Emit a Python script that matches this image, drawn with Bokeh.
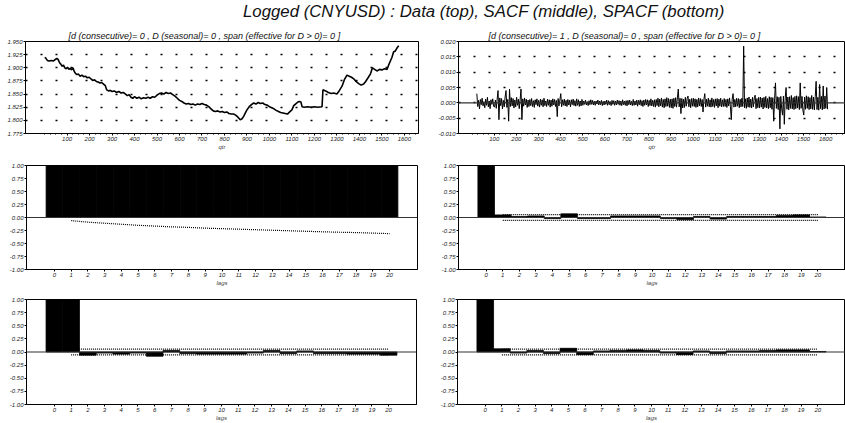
from bokeh.plotting import figure
from bokeh.models import Range1d, FixedTicker, Span, Div, NumeralTickFormatter
from bokeh.layouts import column, row
from bokeh.embed import file_html
from bokeh.resources import INLINE

MAIN_TITLE = "Logged (CNYUSD) : Data (top), SACF (middle), SPACF (bottom)"
SUB_LEFT = "[d (consecutive)= 0 , D (seasonal)= 0 , span (effective for D > 0)= 0 ]"
SUB_RIGHT = "[d (consecutive)= 1 , D (seasonal)= 0 , span (effective for D > 0)= 0 ]"

# level series (qtr, value)
LEVEL_T = [1, 6, 12, 20, 30, 40, 48, 54, 60, 66, 72, 78, 84, 90, 96, 102, 108, 114, 120,
           126, 132, 138, 144, 150, 158, 166, 174, 182, 190, 198, 206, 214, 222, 230, 238,
           246, 254, 262, 270, 276, 284, 292, 300, 310, 320, 330, 340, 350, 360, 368, 376,
           384, 392, 400, 410, 420, 430, 440, 450, 460, 470, 480, 490, 500, 510, 520, 530,
           540, 550, 560, 570, 580, 590, 600, 610, 620, 630, 640, 650, 660, 670, 680, 690,
           700, 710, 720, 730, 740, 750, 760, 770, 780, 790, 800, 810, 820, 830, 840, 850,
           860, 870, 878, 886, 894, 900, 910, 920, 930, 940, 950, 960, 970, 980, 990, 1000,
           1010, 1020, 1030, 1040, 1050, 1060, 1070, 1080, 1090, 1100, 1108, 1116, 1124,
           1132, 1140, 1145, 1155, 1170, 1185, 1200, 1215, 1234, 1238, 1250, 1262, 1274,
           1286, 1300, 1310, 1323, 1334, 1345, 1355, 1365, 1375, 1385, 1397, 1408, 1419,
           1428, 1440, 1450, 1458, 1468, 1478, 1490, 1500, 1512, 1523, 1530, 1537, 1545,
           1552, 1560, 1568, 1575]
LEVEL_V = [1.920, 1.918, 1.914, 1.913, 1.914, 1.913, 1.916, 1.918, 1.916, 1.910, 1.907,
           1.903, 1.905, 1.900, 1.898, 1.901, 1.897, 1.899, 1.896, 1.900, 1.893, 1.889,
           1.887, 1.888, 1.884, 1.886, 1.883, 1.884, 1.881, 1.882, 1.879, 1.876, 1.877,
           1.874, 1.873, 1.871, 1.872, 1.869, 1.866, 1.858, 1.856, 1.857, 1.855, 1.856,
           1.853, 1.855, 1.852, 1.853, 1.850, 1.847, 1.849, 1.844, 1.842, 1.845, 1.842,
           1.844, 1.841, 1.843, 1.842, 1.844, 1.842, 1.845, 1.844, 1.848, 1.851, 1.852,
           1.850, 1.853, 1.851, 1.852, 1.849, 1.846, 1.842, 1.838, 1.836, 1.833, 1.831,
           1.832, 1.830, 1.831, 1.829, 1.831, 1.830, 1.832, 1.830, 1.829, 1.826, 1.822,
           1.818, 1.817, 1.818, 1.816, 1.817, 1.815, 1.816, 1.813, 1.812, 1.812, 1.810,
           1.806, 1.801, 1.803, 1.808, 1.815, 1.820, 1.826, 1.830, 1.833, 1.831, 1.834,
           1.832, 1.833, 1.830, 1.829, 1.826, 1.824, 1.822, 1.819, 1.817, 1.815, 1.814,
           1.813, 1.812, 1.816, 1.820, 1.828, 1.831, 1.834, 1.836, 1.835, 1.826, 1.825,
           1.826, 1.825, 1.826, 1.825, 1.826, 1.858, 1.856, 1.853, 1.851, 1.852, 1.850,
           1.856, 1.865, 1.878, 1.886, 1.884, 1.882, 1.879, 1.874, 1.870, 1.867, 1.869,
           1.874, 1.882, 1.889, 1.900, 1.897, 1.894, 1.897, 1.896, 1.898, 1.897, 1.905,
           1.912, 1.920, 1.930, 1.932, 1.938, 1.942]

# differenced series, one value every 4 qtr starting at qtr 21
DIFF_START = 21
DIFF_STEP = 4
DIFF_V = [
    0.0030, -0.0012, 0.0008, -0.0020, 0.0011, -0.0006, 0.0015, -0.0010, 0.0004, -0.0016,
    0.0012, -0.0008, 0.0018, -0.0013, 0.0006, -0.0019, 0.0010, -0.0005, 0.0013, -0.0011,
    -0.0014, 0.0009, -0.0018, 0.0012, 0.0040, -0.0055, 0.0016, -0.0009, 0.0014, -0.0020,
    0.0008, -0.0013, 0.0019, 0.0040, -0.0015, 0.0011, -0.0060, 0.0045, -0.0012, 0.0017,
    -0.0010, 0.0014, -0.0017, 0.0009, -0.0013, 0.0018, -0.0008, 0.0012, -0.0019, 0.0010,
    0.0045, -0.0055, 0.0013, -0.0011, 0.0016, -0.0007, 0.0012, -0.0015, 0.0009, -0.0012,
    0.0011, -0.0009, 0.0014, -0.0012, 0.0007, -0.0015, 0.0010, -0.0006, 0.0013, -0.0011,
    0.0008, -0.0014, 0.0012, -0.0008, 0.0010, -0.0013, 0.0015, -0.0009, 0.0006, -0.0012,
    0.0012, -0.0008, 0.0010, -0.0014, 0.0009, -0.0011, 0.0013, -0.0007, 0.0011, -0.0012,
    0.0008, -0.0045, 0.0014, -0.0010, 0.0009, 0.0030, -0.0013, 0.0010, -0.0008, 0.0012,
    -0.0010, 0.0008, -0.0012, 0.0011, -0.0007, 0.0009, -0.0013, 0.0010, -0.0006, 0.0012,
    -0.0009, 0.0007, -0.0011, 0.0013, -0.0008, 0.0010, -0.0012, 0.0006, -0.0010, 0.0011,
    -0.0008, 0.0006, -0.0005, 0.0009, -0.0007, 0.0004, -0.0009, 0.0007, -0.0006, 0.0010,
    -0.0005, 0.0008, -0.0007, 0.0005, -0.0008, 0.0006, -0.0004, 0.0009, -0.0007, 0.0006,
    -0.0006, 0.0008, -0.0009, 0.0005, -0.0007, 0.0006, -0.0005, 0.0009, -0.0008, 0.0007,
    -0.0006, 0.0004, -0.0009, 0.0008, -0.0005, 0.0007, -0.0008, 0.0006, -0.0007, 0.0009,
    -0.0005, 0.0007, -0.0008, 0.0006, -0.0009, 0.0010, -0.0006, 0.0005, -0.0008, 0.0007,
    -0.0010, 0.0008, -0.0006, 0.0009, -0.0007, 0.0005, -0.0009, 0.0011, -0.0008, 0.0006,
    -0.0007, 0.0009, -0.0011, 0.0008, -0.0006, 0.0010, -0.0009, 0.0007, -0.0012, 0.0009,
    -0.0008, 0.0011, -0.0007, 0.0010, -0.0012, 0.0008, -0.0009, 0.0013, -0.0010, 0.0008,
    -0.0012, 0.0010, -0.0014, 0.0011, -0.0009, 0.0015, -0.0013, 0.0012, -0.0010, 0.0016,
    -0.0014, 0.0011, -0.0016, 0.0013, -0.0012, 0.0017, -0.0011, 0.0014, -0.0015, 0.0012,
    -0.0016, 0.0013, -0.0018, 0.0015, -0.0012, 0.0017, -0.0014, 0.0016, 0.0045, -0.0013,
    0.0015, -0.0035, 0.0014, -0.0017, 0.0012, -0.0015, 0.0018, -0.0011, 0.0014, 0.0022,
    -0.0013, 0.0012, -0.0016, 0.0014, -0.0011, 0.0015, -0.0012, 0.0013, -0.0015, 0.0011,
    -0.0013, 0.0016, -0.0010, 0.0014, -0.0012, 0.0011, -0.0030, 0.0012, 0.0030, -0.0014,
    0.0012, -0.0011, 0.0015, -0.0013, 0.0010, -0.0014, 0.0016, -0.0012, 0.0011, -0.0015,
    0.0013, -0.0010, 0.0014, -0.0016, 0.0012, -0.0011, 0.0015, -0.0013, 0.0010, -0.0012,
    0.0014, -0.0012, 0.0011, -0.0015, 0.0013, -0.0010, 0.0016, -0.0013, -0.0055, 0.0012,
    0.0030, -0.0014, 0.0011, -0.0013, 0.0015, -0.0011, 0.0014, -0.0016, 0.0012, -0.0013,
    0.0015, -0.0012, 0.0185, -0.0016, 0.0013, -0.0018, 0.0016, -0.0014, 0.0019, -0.0015,
    0.0012, -0.0017, 0.0018, -0.0013, 0.0016, 0.0025, -0.0019, 0.0014, -0.0016, 0.0018,
    -0.0017, 0.0019, -0.0014, 0.0016, -0.0020, 0.0018, -0.0015, 0.0021, -0.0017, 0.0014,
    -0.0019, 0.0020, -0.0016, 0.0018, -0.0021, 0.0017, -0.0060, 0.0015, 0.0065, -0.0018,
    0.0020, -0.0022, 0.0018, -0.0085, 0.0021, -0.0019, -0.0040, 0.0022, -0.0070, 0.0016,
    0.0050, -0.0021, 0.0019, -0.0023, 0.0020, -0.0018, 0.0024, -0.0020, 0.0017, -0.0022,
    0.0021, -0.0019, 0.0023, -0.0017, 0.0020, -0.0022, 0.0065, -0.0018, 0.0021, -0.0024,
    -0.0040, 0.0019, -0.0021, 0.0023, -0.0018, 0.0020, -0.0022, 0.0017, -0.0020, 0.0024,
    -0.0021, 0.0019, -0.0023, 0.0020, 0.0070, -0.0022, 0.0018, -0.0024, 0.0060, -0.0019,
    0.0021, -0.0023, 0.0055, -0.0020, 0.0022, -0.0018, 0.0050, -0.0021,
]
DIFF_T = [DIFF_START + DIFF_STEP * i for i in range(len(DIFF_V))]

LAGS = list(range(0, 21))
SACF_LEVEL = [1.00, 1.00, 1.00, 1.00, 1.00, 1.00, 1.00, 1.00, 1.00, 1.00, 1.00,
              1.00, 1.00, 1.00, 1.00, 1.00, 1.00, 1.00, 1.00, 1.00, 1.00]
SACF_LEVEL_BAND = [-0.06, -0.09, -0.11, -0.13, -0.15, -0.165, -0.18, -0.19, -0.205, -0.215,
                   -0.225, -0.235, -0.245, -0.255, -0.265, -0.275, -0.283, -0.29, -0.30, -0.31]
SACF_DIFF = [1.00, 0.05, 0.02, 0.03, -0.02, 0.07, -0.02, -0.02, 0.03, 0.03, 0.03,
             -0.02, -0.04, 0.02, -0.03, 0.02, 0.02, 0.02, 0.04, 0.05, 0.01]
SPACF_LEVEL = [1.00, 1.00, -0.06, -0.02, -0.04, -0.02, -0.08, 0.03, -0.03, -0.04, -0.04,
               -0.04, -0.02, 0.03, -0.03, 0.02, -0.03, -0.03, -0.04, -0.04, -0.06]
SPACF_DIFF = [1.00, 0.06, -0.02, 0.03, -0.03, 0.07, -0.05, 0.02, 0.03, 0.04, 0.03,
              -0.02, -0.05, 0.02, -0.03, 0.02, 0.02, 0.03, 0.04, 0.04, 0.01]
BAND = 0.055

LEVEL_YTICKS = [1.775, 1.800, 1.825, 1.850, 1.875, 1.900, 1.925, 1.950]
DIFF_YTICKS = [-0.010, -0.005, 0.000, 0.005, 0.010, 0.015, 0.020]
ACF_YTICKS = [-1.00, -0.75, -0.50, -0.25, 0.00, 0.25, 0.50, 0.75, 1.00]
QTR_TICKS = list(range(100, 1700, 100))

FONT = "Liberation Sans"


def base(w, h, xr, yr, bl, br, bt, bb, title=None, title_offset=0):
    p = figure(width=w, height=h, x_range=Range1d(*xr), y_range=Range1d(*yr),
               output_backend="svg", toolbar_location=None,
               min_border_left=bl, min_border_right=br,
               min_border_top=bt, min_border_bottom=bb)
    p.outline_line_color = "black"
    p.outline_line_width = 1
    p.background_fill_color = "white"
    p.border_fill_color = "white"
    p.xgrid.visible = False
    p.ygrid.visible = False
    for ax in (p.xaxis[0], p.yaxis[0]):
        ax.axis_line_color = "black"
        ax.major_tick_line_color = "black"
        ax.minor_tick_line_color = "black"
        ax.major_tick_out = 2
        ax.major_tick_in = 0
        ax.minor_tick_out = 1
        ax.minor_tick_in = 0
        ax.major_label_text_font = FONT
        ax.major_label_text_font_style = "italic"
        ax.major_label_text_font_size = "6px"
        ax.major_label_text_color = "#222222"
        ax.major_label_standoff = 1
        ax.axis_label_text_font = FONT
        ax.axis_label_text_font_style = "italic"
        ax.axis_label_text_font_size = "6px"
        ax.axis_label_standoff = 0
    if title:
        p.title.text = title
        p.title.align = "left"
        p.title.text_font = FONT
        p.title.text_font_style = "italic"
        p.title.text_font_size = "9px"
        p.title.text_color = "#111111"
        p.title.standoff = 1
        p.title.offset = title_offset
    return p


def series_fig(x, y, ticks, fmt, xr, yr, bl, br, title, lw, toff, zero_line=False):
    p = base(425 if bl > 30 else 420, 130, xr, yr, bl, br, 19, 15, title, toff)
    p.xaxis[0].ticker = FixedTicker(ticks=QTR_TICKS,
                                    minor_ticks=list(range(0, 1700, 25)))
    p.xaxis[0].axis_label = "qtr"
    p.yaxis[0].ticker = FixedTicker(ticks=ticks)
    p.yaxis[0].formatter = NumeralTickFormatter(format=fmt)
    p.ygrid.visible = True
    p.ygrid.grid_line_color = "black"
    p.ygrid.grid_line_width = 1.5
    p.ygrid.grid_line_dash = "2 13"
    if zero_line:
        p.add_layout(Span(location=0, dimension="width", line_color="#333333",
                          line_width=1.2))
    p.line(x, y, line_color="black", line_width=lw)
    return p


def acf_fig(vals, upper, lower, w, h, bl, br, bt, bb):
    p = base(w, h, (-1.67, 21.67), (-1.0, 1.0), bl, br, bt, bb)
    p.xaxis[0].ticker = FixedTicker(ticks=LAGS)
    p.xaxis[0].axis_label = "lags"
    p.yaxis[0].ticker = FixedTicker(ticks=ACF_YTICKS)
    p.yaxis[0].formatter = NumeralTickFormatter(format="0.00")
    p.add_layout(Span(location=0, dimension="width", line_color="#333333",
                      line_width=1.2))
    p.vbar(x=LAGS, top=vals, bottom=0, width=1.0, fill_color="black",
           line_color="black", line_width=0.8)
    band_x = LAGS[1:]
    p.line(band_x, upper, line_color="black", line_dash="1 1", line_width=1.2)
    p.line(band_x, lower, line_color="black", line_dash="1 1", line_width=1.2)
    return p


p1 = series_fig(LEVEL_T, LEVEL_V, LEVEL_YTICKS, "0.000", (-85, 1663), (1.775, 1.950),
                25, 2, SUB_LEFT, 1.6, 43)
p2 = series_fig(DIFF_T, DIFF_V, DIFF_YTICKS, "0.000", (-62, 1690), (-0.010, 0.020),
                38, 0, SUB_RIGHT, 1.0, 30, zero_line=True)

band_pos = [BAND] * 20
band_neg = [-BAND] * 20
p3 = acf_fig(SACF_LEVEL, [-b for b in SACF_LEVEL_BAND], SACF_LEVEL_BAND, 420, 136, 26, 3, 13, 19)
p4 = acf_fig(SACF_DIFF, band_pos, band_neg, 425, 136, 38, 0, 13, 19)
p5 = acf_fig(SPACF_LEVEL, band_pos, band_neg, 420, 135, 26, 4, 11, 19)
p6 = acf_fig(SPACF_DIFF, band_pos, band_neg, 425, 135, 37, 0, 11, 19)

title = Div(text=MAIN_TITLE, width=845, height=22, margin=(0, 0, 0, 0),
            styles={"text-align": "left", "font-family": FONT, "font-style": "italic",
                    "font-size": "16.8px", "line-height": "24px", "width": "845px",
                    "box-sizing": "border-box", "padding-left": "243px",
                    "color": "#111111"})

layout = column(title,
                row(p1, p2, spacing=0),
                row(p3, p4, spacing=0),
                row(p5, p6, spacing=0),
                spacing=0)

open("out.html", "w").write(file_html(layout, INLINE))
